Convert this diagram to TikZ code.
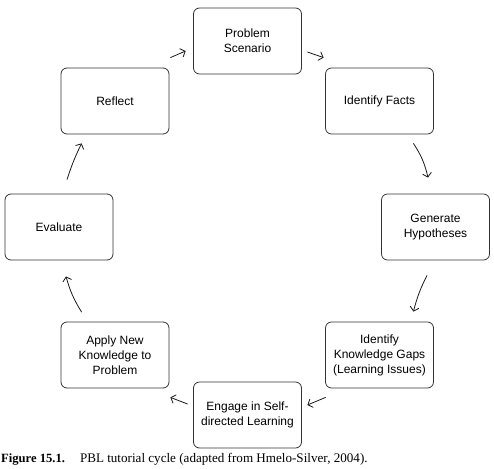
\documentclass[tikz,border=0pt]{standalone}
\usepackage{fontspec}
\setmainfont{Liberation Serif}
\newfontfamily\boxfont{Liberation Sans}
\usetikzlibrary{arrows.meta}

\tikzset{
  stage/.style={draw=black!80, line width=0.8pt, rounded corners=6pt,
    minimum width=108pt, minimum height=66pt, align=center,
    font=\boxfont\fontsize{12}{15}\selectfont},
  arr/.style={draw=black!90, line width=0.8pt, -{Straight Barb[length=4pt,width=9pt]}}
}

\begin{document}
\begin{tikzpicture}[x=1pt,y=-1pt]
  \useasboundingbox (0,0) rectangle (494,468);

  % stages of the cycle
  \node[stage] (problem) at (247.5,41) {Problem\\Scenario};
  \node[stage] (facts) at (379.5,101) {Identify Facts};
  \node[stage] (hypo) at (435.5,227) {Generate\\Hypotheses};
  \node[stage] (gaps) at (379.5,355) {Identify\\Knowledge Gaps\\(Learning Issues)};
  \node[stage] (engage) at (247.5,415) {Engage in Self-\\directed Learning};
  \node[stage] (apply) at (115,355) {Apply New\\Knowledge to\\Problem};
  \node[stage] (evaluate) at (59,227) {Evaluate};
  \node[stage] (reflect) at (115,101) {Reflect};

  % arrows
  \draw[arr] ([shift={(1,-10)}]reflect.north east) -- ([shift={(-7.5,10)}]problem.west);
  \draw[arr] ([shift={(5.5,11)}]problem.east) -- ([shift={(-1.5,-10)}]facts.north west);
  \draw[arr] ([shift={(-20.5,9)}]facts.south east) to[bend left=10] ([shift={(-7.5,-16)}]hypo.north);
  \draw[arr] ([shift={(-8.5,15)}]hypo.south) to[bend right=6] ([shift={(-20.5,-10)}]gaps.north east);
  \draw[arr] ([shift={(0.5,9)}]gaps.south west) -- ([shift={(5.5,-10)}]engage.east);
  \draw[arr] ([shift={(-5.5,-11)}]engage.west) -- ([shift={(1,9)}]apply.south east);
  \draw[arr] ([shift={(21,-9.5)}]apply.north west) to[bend left=8] ([shift={(7,16)}]evaluate.south);
  \draw[arr] ([shift={(8,-14)}]evaluate.north) to[bend left=4] ([shift={(21,9)}]reflect.south west);

  % caption
  \node[anchor=base west, inner sep=0pt, font=\fontsize{13.1}{14}\selectfont] (caption) at (1,462)
    {{\bfseries\fontsize{12.6}{14}\selectfont Figure 15.1.}\hspace{15pt}PBL tutorial cycle (adapted from Hmelo-Silver, 2004).};
\end{tikzpicture}
\end{document}
